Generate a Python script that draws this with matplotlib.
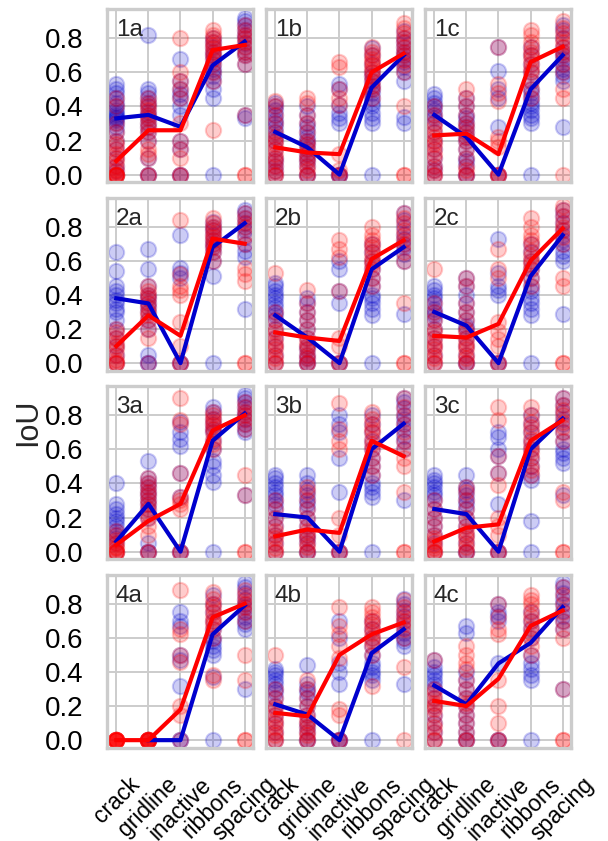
import matplotlib
matplotlib.use("Agg")
import matplotlib.pyplot as plt
import numpy as np

plt.rcParams['font.family'] = ['Liberation Sans', 'DejaVu Sans']

categories = ["crack", "gridline", "inactive", "ribbons", "spacing"]
panel_names = ["1a", "1b", "1c", "2a", "2b", "2c", "3a", "3b", "3c", "4a", "4b", "4c"]
yticks = [0.0, 0.2, 0.4, 0.6, 0.8]
ytick_labels = ["0.0", "0.2", "0.4", "0.6", "0.8"]

# ---- per-panel scatter values: [crack, gridline, inactive, ribbons, spacing]
p1a_blue = [[0.0, 0.02, 0.05, 0.1, 0.15, 0.2, 0.25, 0.28, 0.3, 0.32, 0.33, 0.34, 0.35, 0.36, 0.38, 0.4, 0.42, 0.45, 0.48, 0.5, 0.53],
            [0.0, 0.0, 0.1, 0.2, 0.25, 0.28, 0.3, 0.33, 0.35, 0.37, 0.4, 0.42, 0.45, 0.48, 0.5, 0.82],
            [0.0, 0.0, 0.15, 0.2, 0.35, 0.4, 0.45, 0.47, 0.5, 0.55, 0.68],
            [0.0, 0.45, 0.5, 0.55, 0.58, 0.6, 0.62, 0.65, 0.68, 0.7, 0.72, 0.75, 0.78, 0.8],
            [0.33, 0.35, 0.65, 0.7, 0.72, 0.75, 0.77, 0.8, 0.82, 0.85, 0.88, 0.9, 0.92]]
p1a_red = [[0.0, 0.0, 0.0, 0.0, 0.0, 0.0, 0.03, 0.05, 0.08, 0.1, 0.12, 0.15, 0.18, 0.2, 0.25, 0.3, 0.4, 0.45],
           [0.0, 0.0, 0.1, 0.12, 0.15, 0.2, 0.25, 0.28, 0.3, 0.33, 0.35, 0.38, 0.4, 0.42, 0.45],
           [0.0, 0.0, 0.1, 0.15, 0.2, 0.3, 0.45, 0.5, 0.55, 0.6, 0.8],
           [0.26, 0.55, 0.6, 0.65, 0.68, 0.7, 0.72, 0.74, 0.76, 0.78, 0.8, 0.82, 0.85],
           [0.0, 0.0, 0.35, 0.65, 0.7, 0.72, 0.75, 0.78, 0.8, 0.82, 0.85, 0.88]]
p1b_blue = [[0.0, 0.02, 0.05, 0.08, 0.1, 0.15, 0.2, 0.22, 0.25, 0.28, 0.3, 0.32, 0.35, 0.38, 0.4, 0.42],
            [0.0, 0.0, 0.05, 0.08, 0.1, 0.12, 0.15, 0.18, 0.2, 0.22, 0.25, 0.28, 0.3, 0.35, 0.4],
            [0.0, 0.0, 0.0, 0.3, 0.33, 0.36, 0.41, 0.5, 0.53],
            [0.0, 0.3, 0.33, 0.36, 0.4, 0.42, 0.45, 0.48, 0.5, 0.52, 0.55, 0.58, 0.6, 0.65, 0.7, 0.74],
            [0.3, 0.34, 0.55, 0.6, 0.63, 0.66, 0.68, 0.7, 0.72, 0.75, 0.78, 0.8, 0.84]]
p1b_red = [[0.0, 0.0, 0.02, 0.05, 0.08, 0.1, 0.12, 0.15, 0.18, 0.2, 0.22, 0.25, 0.3, 0.35, 0.4, 0.43],
           [0.0, 0.0, 0.03, 0.05, 0.08, 0.1, 0.12, 0.15, 0.18, 0.2, 0.25, 0.3, 0.35, 0.42, 0.45],
           [0.0, 0.0, 0.03, 0.12, 0.41, 0.45, 0.5, 0.63, 0.66],
           [0.45, 0.5, 0.52, 0.55, 0.58, 0.6, 0.62, 0.64, 0.66, 0.68, 0.7, 0.72, 0.75],
           [0.0, 0.0, 0.4, 0.6, 0.64, 0.67, 0.7, 0.72, 0.75, 0.78, 0.8, 0.83, 0.86, 0.89]]
p1c_blue = [[0.0, 0.03, 0.05, 0.1, 0.15, 0.2, 0.25, 0.3, 0.33, 0.35, 0.38, 0.4, 0.42, 0.45, 0.47],
            [0.0, 0.0, 0.05, 0.08, 0.1, 0.15, 0.2, 0.22, 0.25, 0.28, 0.3, 0.33, 0.35, 0.4, 0.45],
            [0.0, 0.0, 0.28, 0.45, 0.5, 0.61, 0.75],
            [0.0, 0.3, 0.33, 0.35, 0.38, 0.4, 0.42, 0.45, 0.48, 0.5, 0.55, 0.6, 0.65, 0.7, 0.75],
            [0.28, 0.55, 0.58, 0.6, 0.62, 0.65, 0.68, 0.7, 0.72, 0.75, 0.8, 0.85, 0.88]]
p1c_red = [[0.0, 0.0, 0.03, 0.05, 0.1, 0.12, 0.15, 0.18, 0.2, 0.22, 0.25, 0.28, 0.3, 0.35, 0.4],
           [0.0, 0.0, 0.03, 0.05, 0.1, 0.15, 0.2, 0.22, 0.25, 0.28, 0.3, 0.35, 0.4, 0.45, 0.5],
           [0.0, 0.0, 0.0, 0.16, 0.2, 0.22, 0.43, 0.48, 0.53, 0.75],
           [0.45, 0.5, 0.55, 0.6, 0.62, 0.65, 0.68, 0.7, 0.72, 0.75, 0.78, 0.82, 0.85],
           [0.0, 0.45, 0.5, 0.6, 0.65, 0.7, 0.72, 0.75, 0.78, 0.8, 0.83, 0.86, 0.9]]
p2a_blue = [[0.0, 0.05, 0.1, 0.15, 0.2, 0.25, 0.3, 0.32, 0.35, 0.37, 0.4, 0.42, 0.45, 0.54, 0.65],
            [0.0, 0.0, 0.05, 0.2, 0.25, 0.3, 0.33, 0.35, 0.38, 0.4, 0.45, 0.55, 0.67],
            [0.0, 0.0, 0.5, 0.53, 0.56, 0.75],
            [0.0, 0.51, 0.6, 0.65, 0.68, 0.7, 0.72, 0.75, 0.78, 0.8, 0.83],
            [0.32, 0.62, 0.66, 0.7, 0.74, 0.78, 0.8, 0.82, 0.85, 0.88, 0.9]]
p2a_red = [[0.0, 0.0, 0.0, 0.02, 0.05, 0.08, 0.1, 0.12, 0.15, 0.18, 0.2],
           [0.0, 0.15, 0.2, 0.25, 0.28, 0.3, 0.33, 0.35, 0.38, 0.4, 0.42, 0.45],
           [0.0, 0.0, 0.1, 0.24, 0.4, 0.43, 0.45, 0.52, 0.84],
           [0.6, 0.65, 0.68, 0.7, 0.72, 0.74, 0.76, 0.78, 0.8, 0.82, 0.85],
           [0.0, 0.0, 0.48, 0.52, 0.56, 0.7, 0.75, 0.8, 0.82, 0.85, 0.88]]
p2b_blue = [[0.0, 0.05, 0.1, 0.15, 0.2, 0.25, 0.28, 0.3, 0.33, 0.35, 0.38, 0.4, 0.42, 0.45, 0.47],
            [0.0, 0.0, 0.03, 0.05, 0.08, 0.1, 0.15, 0.2, 0.25, 0.3, 0.35, 0.38],
            [0.0, 0.0, 0.35, 0.42, 0.55, 0.6],
            [0.0, 0.28, 0.32, 0.35, 0.38, 0.4, 0.45, 0.5, 0.55, 0.6, 0.65, 0.7],
            [0.29, 0.6, 0.64, 0.68, 0.7, 0.73, 0.76, 0.8, 0.84, 0.88]]
p2b_red = [[0.0, 0.0, 0.03, 0.05, 0.08, 0.1, 0.12, 0.15, 0.18, 0.2, 0.25, 0.3, 0.53],
           [0.0, 0.0, 0.03, 0.05, 0.08, 0.1, 0.12, 0.15, 0.2, 0.25, 0.3, 0.35, 0.43],
           [0.0, 0.0, 0.1, 0.15, 0.42, 0.62, 0.67, 0.72],
           [0.45, 0.5, 0.55, 0.58, 0.6, 0.62, 0.65, 0.68, 0.7, 0.72, 0.75, 0.8],
           [0.0, 0.0, 0.35, 0.6, 0.65, 0.7, 0.72, 0.75, 0.78, 0.82, 0.85, 0.88]]
p2c_blue = [[0.0, 0.05, 0.1, 0.15, 0.2, 0.25, 0.28, 0.3, 0.32, 0.35, 0.38, 0.4, 0.43, 0.45],
            [0.0, 0.0, 0.05, 0.1, 0.15, 0.2, 0.22, 0.25, 0.3, 0.35, 0.4, 0.45, 0.5],
            [0.0, 0.0, 0.4, 0.43, 0.45, 0.53, 0.73],
            [0.0, 0.28, 0.32, 0.35, 0.38, 0.42, 0.45, 0.5, 0.55, 0.6, 0.65, 0.7],
            [0.29, 0.6, 0.63, 0.66, 0.7, 0.72, 0.75, 0.78, 0.82, 0.86, 0.9]]
p2c_red = [[0.0, 0.0, 0.03, 0.05, 0.08, 0.1, 0.12, 0.15, 0.18, 0.2, 0.25, 0.3, 0.35, 0.55],
           [0.0, 0.0, 0.03, 0.05, 0.08, 0.1, 0.12, 0.15, 0.18, 0.2, 0.25, 0.3, 0.35, 0.45, 0.5],
           [0.0, 0.0, 0.1, 0.14, 0.19, 0.24, 0.5, 0.55, 0.67],
           [0.45, 0.5, 0.55, 0.58, 0.6, 0.63, 0.66, 0.7, 0.72, 0.75, 0.8, 0.85],
           [0.0, 0.0, 0.45, 0.5, 0.7, 0.74, 0.78, 0.8, 0.83, 0.86, 0.9, 0.92]]
p3a_blue = [[0.0, 0.05, 0.08, 0.1, 0.12, 0.15, 0.18, 0.2, 0.22, 0.25, 0.28, 0.4],
            [0.0, 0.0, 0.05, 0.2, 0.25, 0.28, 0.3, 0.33, 0.35, 0.38, 0.4, 0.43, 0.53],
            [0.0, 0.0, 0.32, 0.46, 0.62, 0.66, 0.7, 0.76],
            [0.0, 0.41, 0.45, 0.5, 0.53, 0.6, 0.65, 0.7, 0.72, 0.75, 0.78, 0.82, 0.85],
            [0.33, 0.7, 0.72, 0.75, 0.78, 0.8, 0.82, 0.85, 0.88, 0.9, 0.92]]
p3a_red = [[0.0, 0.0, 0.0, 0.0, 0.02, 0.03, 0.05, 0.07, 0.1, 0.12],
           [0.0, 0.0, 0.1, 0.15, 0.2, 0.22, 0.25, 0.28, 0.3, 0.33, 0.35, 0.38, 0.4, 0.43],
           [0.0, 0.0, 0.25, 0.28, 0.3, 0.32, 0.46, 0.75, 0.77, 0.9],
           [0.6, 0.63, 0.66, 0.7, 0.72, 0.74, 0.76, 0.78, 0.8, 0.82],
           [0.0, 0.0, 0.33, 0.45, 0.72, 0.75, 0.78, 0.8, 0.82, 0.85, 0.88]]
p3b_blue = [[0.0, 0.05, 0.1, 0.15, 0.2, 0.25, 0.28, 0.3, 0.33, 0.35, 0.38, 0.4, 0.43, 0.45],
            [0.0, 0.0, 0.05, 0.08, 0.1, 0.15, 0.2, 0.25, 0.28, 0.3, 0.33, 0.36, 0.4, 0.45],
            [0.0, 0.0, 0.35, 0.55, 0.7, 0.75, 0.8],
            [0.0, 0.32, 0.35, 0.38, 0.4, 0.45, 0.5, 0.55, 0.6, 0.65, 0.7, 0.75, 0.8],
            [0.3, 0.6, 0.65, 0.68, 0.72, 0.75, 0.78, 0.8, 0.84, 0.88, 0.9]]
p3b_red = [[0.0, 0.0, 0.02, 0.05, 0.08, 0.1, 0.12, 0.15, 0.2, 0.25, 0.3],
           [0.0, 0.0, 0.03, 0.05, 0.08, 0.1, 0.12, 0.15, 0.2, 0.25, 0.3, 0.35, 0.38],
           [0.0, 0.0, 0.1, 0.2, 0.6, 0.65, 0.72, 0.87],
           [0.45, 0.5, 0.55, 0.6, 0.63, 0.66, 0.7, 0.72, 0.75, 0.78, 0.82],
           [0.0, 0.0, 0.35, 0.5, 0.55, 0.6, 0.65, 0.7, 0.75, 0.8, 0.85, 0.9]]
p3c_blue = [[0.0, 0.05, 0.1, 0.15, 0.2, 0.25, 0.3, 0.33, 0.35, 0.38, 0.4, 0.42, 0.45],
            [0.0, 0.0, 0.05, 0.1, 0.15, 0.2, 0.25, 0.28, 0.3, 0.33, 0.36, 0.38, 0.45],
            [0.0, 0.0, 0.28, 0.46, 0.56, 0.6, 0.67, 0.7],
            [0.0, 0.18, 0.42, 0.45, 0.5, 0.55, 0.6, 0.65, 0.7, 0.75, 0.8],
            [0.33, 0.52, 0.55, 0.58, 0.6, 0.65, 0.7, 0.75, 0.78, 0.82, 0.86, 0.9]]
p3c_red = [[0.0, 0.0, 0.0, 0.02, 0.04, 0.06, 0.08, 0.1, 0.15, 0.2, 0.25, 0.3],
           [0.0, 0.0, 0.03, 0.05, 0.08, 0.1, 0.12, 0.15, 0.2, 0.25, 0.3, 0.35, 0.38],
           [0.0, 0.0, 0.1, 0.15, 0.2, 0.39, 0.46, 0.56, 0.77, 0.85],
           [0.45, 0.48, 0.5, 0.55, 0.58, 0.6, 0.63, 0.66, 0.7, 0.73, 0.76, 0.8, 0.85],
           [0.0, 0.0, 0.3, 0.35, 0.65, 0.7, 0.73, 0.76, 0.8, 0.83, 0.86, 0.9]]
p4a_blue = [[],
            [0.0],
            [0.0, 0.0, 0.32, 0.47, 0.5, 0.67, 0.7, 0.75],
            [0.0, 0.37, 0.5, 0.53, 0.55, 0.58, 0.6, 0.65, 0.7, 0.75, 0.8, 0.85],
            [0.3, 0.65, 0.68, 0.7, 0.72, 0.75, 0.78, 0.8, 0.83, 0.86, 0.9, 0.92]]
p4a_red = [[0.0, 0.0, 0.0, 0.0, 0.0, 0.0, 0.0, 0.0, 0.0, 0.0],
           [0.0, 0.0, 0.0, 0.0, 0.0, 0.0, 0.0, 0.0, 0.0, 0.0],
           [0.0, 0.15, 0.2, 0.46, 0.5, 0.62, 0.65, 0.88],
           [0.35, 0.38, 0.6, 0.65, 0.68, 0.7, 0.72, 0.75, 0.78, 0.8, 0.83, 0.87],
           [0.0, 0.0, 0.35, 0.5, 0.7, 0.75, 0.78, 0.8, 0.82, 0.85, 0.88]]
p4b_blue = [[0.0, 0.05, 0.1, 0.15, 0.2, 0.25, 0.28, 0.3, 0.33, 0.35, 0.38, 0.4, 0.42],
            [0.0, 0.0, 0.05, 0.08, 0.1, 0.15, 0.2, 0.25, 0.28, 0.3, 0.33, 0.44],
            [0.0, 0.0, 0.0, 0.33, 0.4, 0.45, 0.6, 0.7],
            [0.0, 0.35, 0.38, 0.4, 0.43, 0.45, 0.5, 0.55, 0.6, 0.65, 0.7],
            [0.33, 0.55, 0.58, 0.6, 0.63, 0.66, 0.7, 0.73, 0.76, 0.8, 0.83]]
p4b_red = [[0.0, 0.0, 0.03, 0.05, 0.08, 0.1, 0.12, 0.15, 0.18, 0.2, 0.25, 0.3, 0.5],
           [0.0, 0.0, 0.03, 0.05, 0.08, 0.1, 0.12, 0.15, 0.2, 0.25, 0.3, 0.35],
           [0.0, 0.0, 0.15, 0.18, 0.48, 0.55, 0.62, 0.67, 0.78],
           [0.32, 0.5, 0.55, 0.58, 0.6, 0.63, 0.65, 0.68, 0.7, 0.72, 0.75, 0.78],
           [0.0, 0.43, 0.6, 0.65, 0.68, 0.7, 0.72, 0.75, 0.78, 0.82]]
p4c_blue = [[0.0, 0.05, 0.1, 0.15, 0.2, 0.25, 0.3, 0.33, 0.35, 0.38, 0.4, 0.43, 0.47],
            [0.0, 0.0, 0.05, 0.1, 0.15, 0.2, 0.25, 0.3, 0.35, 0.4, 0.63, 0.67],
            [0.0, 0.0, 0.45, 0.7, 0.73, 0.75, 0.8],
            [0.0, 0.35, 0.38, 0.42, 0.45, 0.5, 0.6, 0.65, 0.7, 0.75],
            [0.3, 0.65, 0.7, 0.73, 0.76, 0.8, 0.83, 0.86, 0.9, 0.92]]
p4c_red = [[0.0, 0.0, 0.05, 0.08, 0.1, 0.15, 0.18, 0.2, 0.22, 0.25, 0.28, 0.3, 0.47],
           [0.0, 0.0, 0.05, 0.1, 0.15, 0.2, 0.22, 0.25, 0.3, 0.35, 0.42, 0.45, 0.5, 0.55],
           [0.0, 0.0, 0.1, 0.2, 0.35, 0.62, 0.65, 0.72, 0.8],
           [0.5, 0.55, 0.6, 0.63, 0.66, 0.7, 0.73, 0.76, 0.8, 0.82, 0.85],
           [0.0, 0.0, 0.3, 0.6, 0.65, 0.7, 0.75, 0.8, 0.85, 0.9]]

# ---- per-panel line values (one per category)
p1a_blue_line = [0.33, 0.35, 0.28, 0.64, 0.78]
p1a_red_line = [0.08, 0.26, 0.26, 0.73, 0.76]
p1b_blue_line = [0.25, 0.16, 0.0, 0.51, 0.70]
p1b_red_line = [0.16, 0.13, 0.12, 0.60, 0.71]
p1c_blue_line = [0.35, 0.22, 0.0, 0.50, 0.70]
p1c_red_line = [0.23, 0.24, 0.12, 0.66, 0.75]
p2a_blue_line = [0.38, 0.35, 0.0, 0.68, 0.82]
p2a_red_line = [0.10, 0.28, 0.16, 0.73, 0.70]
p2b_blue_line = [0.28, 0.15, 0.0, 0.55, 0.68]
p2b_red_line = [0.18, 0.15, 0.13, 0.61, 0.72]
p2c_blue_line = [0.30, 0.22, 0.0, 0.51, 0.75]
p2c_red_line = [0.16, 0.15, 0.23, 0.60, 0.79]
p3a_blue_line = [0.06, 0.28, 0.0, 0.65, 0.81]
p3a_red_line = [0.04, 0.18, 0.28, 0.71, 0.80]
p3b_blue_line = [0.22, 0.20, 0.0, 0.60, 0.75]
p3b_red_line = [0.09, 0.13, 0.11, 0.65, 0.56]
p3c_blue_line = [0.25, 0.22, 0.0, 0.60, 0.78]
p3c_red_line = [0.06, 0.14, 0.16, 0.65, 0.77]
p4a_blue_line = [np.nan, 0.0, 0.0, 0.62, 0.79]
p4a_red_line = [0.0, 0.0, 0.18, 0.72, 0.80]
p4b_blue_line = [0.21, 0.15, 0.0, 0.51, 0.65]
p4b_red_line = [0.16, 0.14, 0.50, 0.62, 0.69]
p4c_blue_line = [0.32, 0.21, 0.45, 0.57, 0.78]
p4c_red_line = [0.23, 0.20, 0.36, 0.67, 0.76]

blue_points = [p1a_blue, p1b_blue, p1c_blue, p2a_blue, p2b_blue, p2c_blue,
               p3a_blue, p3b_blue, p3c_blue, p4a_blue, p4b_blue, p4c_blue]
red_points = [p1a_red, p1b_red, p1c_red, p2a_red, p2b_red, p2c_red,
              p3a_red, p3b_red, p3c_red, p4a_red, p4b_red, p4c_red]
blue_lines = [p1a_blue_line, p1b_blue_line, p1c_blue_line, p2a_blue_line, p2b_blue_line, p2c_blue_line,
              p3a_blue_line, p3b_blue_line, p3c_blue_line, p4a_blue_line, p4b_blue_line, p4c_blue_line]
red_lines = [p1a_red_line, p1b_red_line, p1c_red_line, p2a_red_line, p2b_red_line, p2c_red_line,
             p3a_red_line, p3b_red_line, p3c_red_line, p4a_red_line, p4b_red_line, p4c_red_line]

BLUE = "#0000cd"
RED = "#ff0000"
GRID = "#cccccc"

W, H = 608, 841
fig = plt.figure(figsize=(W / 100, H / 100), dpi=100)
gs = fig.add_gridspec(4, 3, left=107 / W, right=571 / W, top=1 - 9 / H, bottom=1 - 748 / H,
                      wspace=13 / 146, hspace=15 / 173)

xpos = np.arange(len(categories))

for i in range(12):
    r, c = divmod(i, 3)
    ax = fig.add_subplot(gs[r, c])
    ax.set_axisbelow(True)
    ax.grid(True, color=GRID, linewidth=1.4)
    for s in ax.spines.values():
        s.set_color(GRID)
        s.set_linewidth(2.4)

    for pts_all, col in ((blue_points[i], BLUE), (red_points[i], RED)):
        for k, vals in enumerate(pts_all):
            if len(vals) == 0:
                continue
            ax.plot(np.full(len(vals), xpos[k]), vals, linestyle="none", marker="o",
                    markersize=11, markeredgewidth=1.5, color=col, alpha=0.2, zorder=2)
    ax.plot(xpos, blue_lines[i], color=BLUE, linewidth=3, zorder=3)
    ax.plot(xpos, red_lines[i], color=RED, linewidth=3, zorder=4)

    ax.set_xlim(-0.29, 4.26)
    ax.set_ylim(-0.046, 0.971)
    ax.set_xticks(xpos)
    ax.set_yticks(yticks)
    ax.tick_params(length=0)
    if c == 0:
        ax.set_yticklabels(ytick_labels, fontsize=20)
        ax.tick_params(axis="y", pad=17)
    else:
        ax.set_yticklabels([])
    if r == 3:
        ax.set_xticklabels(categories, fontsize=16.5, rotation=45, ha="center")
        ax.tick_params(axis="x", pad=18)
    else:
        ax.set_xticklabels([])
    ax.text(0.06, 0.94, panel_names[i], transform=ax.transAxes, fontsize=17.5,
            ha="left", va="top", color="#262626", zorder=5)

fig.text(28 / W, 1 - 422 / H, "IoU", rotation=90, fontsize=22, ha="center", va="center",
         color="#262626")

fig.savefig("out.png", dpi=100)
